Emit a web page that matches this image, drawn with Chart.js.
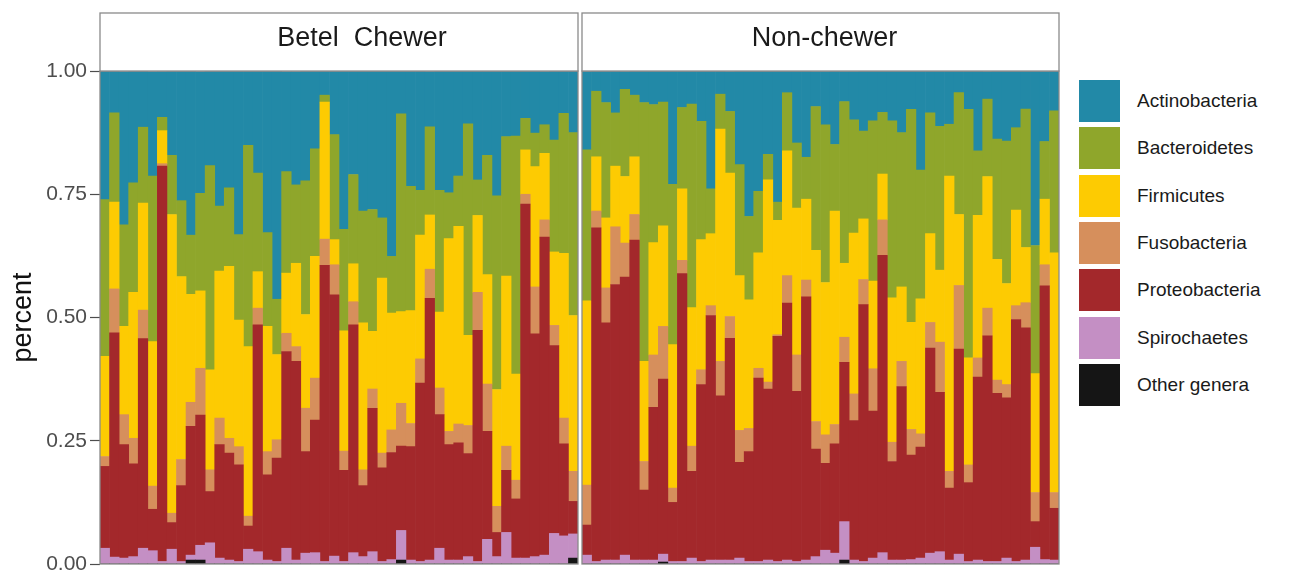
<!DOCTYPE html>
<html>
<head>
<meta charset="utf-8">
<script src="https://cdn.jsdelivr.net/npm/chart.js"></script>
<style>
  html, body { margin: 0; padding: 0; background: #fff; overflow: hidden; }
  body { width: 1289px; height: 574px; position: relative; font-family: "Liberation Sans", Arial, sans-serif; }
  canvas { position: absolute; top: 0; }
  #legend { position: absolute; left: 1079px; top: 80px; }
  .item { position: absolute; left: 0; width: 220px; height: 42px; }
  .sw { position: absolute; left: 0; top: 0; width: 41px; height: 42px; }
  .lab { position: absolute; left: 58px; top: 21px; transform: translateY(-50%); font-size: 19px; color: #1a1a1a; white-space: nowrap; }
</style>
</head>
<body>
<canvas id="chewer" width="579" height="590" style="left:0"></canvas>
<canvas id="nonchewer" width="479" height="590" style="left:581px"></canvas>
<div id="legend"></div>
<script>
// legend order, top of stack first
var phyla = ['Actinobacteria', 'Bacteroidetes', 'Firmicutes', 'Fusobacteria', 'Proteobacteria', 'Spirochaetes', 'Other genera'];
var colors = ['#2289a7', '#8fa62b', '#fdcb02', '#d68f5c', '#a3282b', '#c48fc4', '#151515'];
var facets = ['Betel  Chewer', 'Non-chewer'];
var yTicks = [0, 0.25, 0.5, 0.75, 1];

// Betel chewer samples (50)
var actinoC = [.261,.085,.311,.227,.115,.212,.093,.171,.264,.334, .247,.192,.274,.237,.332,.151,.207,.328,.464,.203,
               .230,.223,.158,.051,.129,.322,.210,.284,.281,.298, .376,.088,.234,.242,.112,.242,.247,.213,.108,.221,
               .171,.254,.133,.133,.097,.127,.108,.140,.086,.125];
var bactC   = [.318,.181,.206,.222,.154,.336,.027,.120,.154,.120, .198,.414,.132,.159,.173,.408,.200,.190,.112,.206,
               .159,.271,.218,.014,.213,.206,.181,.227,.247,.122, .115,.401,.252,.091,.179,.247,.093,.102,.429,.072,
               .242,.393,.283,.483,.064,.068,.058,.227,.284,.371];
var firmC   = [.203,.176,.179,.296,.217,.293,.067,.606,.371,.219, .157,.203,.298,.349,.257,.344,.074,.254,.173,.122,
               .169,.190,.247,.278,.051,.244,.077,.298,.117,.355, .237,.186,.229,.251,.110,.154,.391,.401,.183,.156,
               .222,.237,.345,.215,.090,.244,.135,.149,.334,.316];
var fusoC   = [.020,.089,.061,.052,.058,.047,.005,.019,.053,.049, .095,.044,.054,.030,.037,.020,.034,.047,.037,.037,
               .030,.088,.085,.053,.061,.039,.047,.032,.039,.030, .046,.087,.047,.049,.059,.054,.027,.038,.057,.077,
               .096,.053,.049,.038,.020,.095,.035,.041,.052,.061];
var protC   = [.166,.455,.230,.188,.425,.084,.802,.054,.154,.261, .264,.104,.230,.217,.196,.047,.460,.173,.210,.399,
               .403,.206,.269,.601,.530,.185,.462,.144,.291,.190, .217,.171,.230,.362,.531,.271,.234,.238,.209,.469,
               .219,.049,.126,.120,.718,.452,.645,.381,.187,.066];
var spiroC  = [.032,.014,.012,.015,.032,.027,.005,.030,.005,.010, .030,.043,.012,.008,.005,.030,.025,.008,.005,.032,
               .008,.022,.023,.005,.016,.005,.023,.015,.025,.005, .009,.060,.008,.005,.008,.032,.008,.008,.015,.005,
               .050,.015,.064,.012,.012,.015,.018,.062,.057,.049];
var otherC  = [0,0,0,0,0,0,0,0,0,.008, .008,0,0,0,0,0,0,0,0,0,
               0,0,0,0,0,0,0,0,0,0, 0,.008,0,0,0,0,0,0,0,0,
               0,0,0,0,0,0,0,0,0,.012];

// Non-chewer samples (50)
var actinoN = [.159,.041,.064,.085,.036,.049,.064,.068,.063,.230, .074,.068,.102,.239,.047,.081,.190,.295,.244,.169,
               .266,.044,.146,.176,.071,.108,.149,.061,.098,.122, .102,.085,.102,.125,.078,.201,.085,.112,.108,.044,
               .078,.162,.056,.139,.142,.115,.078,.354,.142,.081];
var bactN   = [.306,.133,.234,.108,.177,.125,.525,.280,.251,.325, .165,.413,.240,.091,.071,.125,.225,.169,.125,.052,
               .037,.118,.132,.085,.292,.320,.135,.328,.230,.178, .325,.125,.359,.313,.432,.261,.245,.292,.105,.247,
               .504,.131,.157,.244,.289,.167,.281,.260,.117,.288];
var firmN   = [.374,.110,.142,.123,.135,.117,.203,.228,.204,.291, .145,.281,.264,.146,.471,.291,.314,.261,.234,.410,
               .232,.253,.298,.164,.347,.309,.433,.150,.326,.123, .178,.093,.293,.151,.217,.274,.180,.146,.599,.144,
               .217,.289,.267,.245,.205,.194,.112,.241,.133,.486];
var fusoN   = [.081,.034,.071,.117,.069,.052,.058,.106,.107,.029, .027,.051,.030,.020,.070,.044,.065,.047,.020,.014,
               .003,.056,.074,.034,.056,.058,.039,.051,.054,.051, .086,.072,.039,.051,.052,.027,.052,.102,.034,.129,
               .036,.039,.056,.027,.027,.028,.051,.059,.043,.032];
var protN   = [.061,.677,.481,.559,.564,.649,.142,.310,.355,.120, .584,.176,.359,.496,.333,.450,.194,.223,.372,.347,
               .457,.521,.345,.534,.218,.176,.222,.323,.283,.521, .298,.603,.200,.352,.212,.225,.416,.323,.146,.416,
               .160,.371,.458,.341,.325,.491,.471,.052,.555,.105];
var spiroN  = [.018,.005,.008,.008,.018,.008,.008,.008,.016,.005, .005,.012,.005,.008,.008,.008,.012,.005,.005,.008,
               .005,.008,.005,.008,.015,.028,.022,.078,.008,.005, .012,.023,.008,.008,.009,.012,.022,.025,.008,.020,
               .005,.008,.005,.005,.012,.005,.008,.034,.009,.008];
var otherN  = [0,0,0,0,0,0,0,0,.004,0, 0,0,0,0,0,0,0,0,0,0,
               0,0,0,0,0,0,0,.008,0,0, 0,0,0,0,0,0,0,0,0,0,
               0,0,0,0,0,0,0,0,0,0];

var samplesC = actinoC.map(function(_, i){ return 'BC' + (i + 1); });
var samplesN = actinoN.map(function(_, i){ return 'NC' + (i + 1); });

var FONT = '"Liberation Sans", Arial, sans-serif';

// draws panel border and the facet strip above it
var facetFrame = {
  id: 'facetFrame',
  afterDraw: function(chart, args, opts) {
    var ctx = chart.ctx, a = chart.chartArea;
    ctx.save();
    ctx.strokeStyle = '#8a8a8a';
    ctx.lineWidth = 1.3;
    ctx.strokeRect(a.left, a.top, a.right - a.left, a.bottom - a.top);
    ctx.fillStyle = '#fff';
    ctx.fillRect(a.left, a.top - 58, a.right - a.left, 58);
    ctx.strokeRect(a.left, a.top - 58, a.right - a.left, 58);
    ctx.fillStyle = '#1a1a1a';
    ctx.font = '27px ' + FONT;
    ctx.textAlign = 'center';
    ctx.textBaseline = 'middle';
    ctx.fillText(opts.label, (a.left + a.right) / 2 + (opts.dx || 0), a.top - 32);
    ctx.restore();
  }
};

function makeChart(id, labels, series, label, showAxis, dx) {
  // datasets go bottom to top
  var ds = [];
  for (var k = phyla.length - 1; k >= 0; k--) {
    ds.push({
      label: phyla[k],
      data: series[k],
      backgroundColor: colors[k],
      borderWidth: 0,
      barPercentage: 1,
      categoryPercentage: 1
    });
  }
  var yAxis = {
    stacked: true, min: 0, max: 1, display: showAxis,
    afterBuildTicks: function(s) { s.ticks = yTicks.map(function(v){ return {value: v}; }); },
    ticks: {
      callback: function(v) { return Number(v).toFixed(2); },
      color: '#4d4d4d', font: {size: 21, family: FONT}, padding: 3
    },
    grid: {drawOnChartArea: false, tickLength: 10, tickColor: '#4d4d4d', tickWidth: 1.2},
    border: {display: false},
    title: {display: true, text: 'percent', color: '#111', font: {size: 27, family: FONT}, padding: {top: 7, bottom: 0}}
  };
  if (showAxis) yAxis.afterFit = function(s) { s.width = 100; };
  return new Chart(document.getElementById(id), {
    type: 'bar',
    data: {labels: labels, datasets: ds},
    options: {
      responsive: false,
      animation: false,
      layout: {padding: {top: 71, bottom: 26, left: showAxis ? 0 : 1, right: 1}},
      plugins: {legend: {display: false}, tooltip: {enabled: false}, facetFrame: {label: label, dx: dx}},
      scales: {
        x: {stacked: true, display: false},
        y: yAxis
      }
    },
    plugins: [facetFrame]
  });
}

makeChart('chewer', samplesC, [actinoC, bactC, firmC, fusoC, protC, spiroC, otherC], facets[0], true, 23);
makeChart('nonchewer', samplesN, [actinoN, bactN, firmN, fusoN, protN, spiroN, otherN], facets[1], false, 4);

// legend
var leg = document.getElementById('legend');
phyla.forEach(function(name, k) {
  var it = document.createElement('div');
  it.className = 'item';
  it.style.top = (k * 47.3) + 'px';
  it.innerHTML = '<div class="sw" style="background:' + colors[k] + '"></div><div class="lab">' + name + '</div>';
  leg.appendChild(it);
});
</script>
</body>
</html>
